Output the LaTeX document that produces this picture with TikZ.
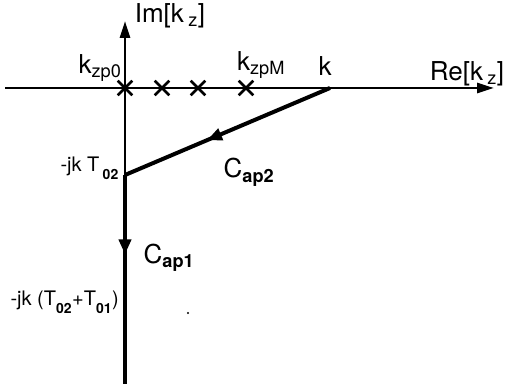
\documentclass[tikz,border=0pt]{standalone}
\usepackage{fontspec}
\setmainfont{TeX Gyre Heros}
\usetikzlibrary{arrows.meta,shapes.misc,decorations.markings}

\newcommand{\lowsub}[1]{\raisebox{-0.45ex}{\textsubscript{\bfseries #1}}}

\begin{document}
\begin{tikzpicture}[x=1pt,y=-1pt,
    axis/.style={line width=2.8pt,-{Triangle[length=17pt,width=10pt]}},
    contour/.style={line width=4pt},
    pole/.style={cross out,draw,line width=2.6pt,minimum size=12pt,inner sep=0pt},
    lbl/.style={inner sep=0pt,font=\fontsize{26}{28}\selectfont},
    smalllbl/.style={inner sep=0pt,font=\fontsize{20}{22}\selectfont,anchor=east},
    midarrow/.style={postaction={decorate},decoration={markings,
      mark=at position #1 with {\arrow{Triangle[length=15pt,width=12pt]}}}}
  ]
  \useasboundingbox (0,0) rectangle (507,387);

  % points of the plane
  \coordinate (origin) at (125,88);
  \coordinate (reLeft) at (5,88);
  \coordinate (reTip) at (494,88);
  \coordinate (imTip) at (125,21);
  \coordinate (kPoint) at (330,88);
  \coordinate (tPoint) at (125,175);
  \coordinate (bottom) at (125,384);

  % axes
  \draw[axis] (reLeft) -- (reTip);
  \draw[axis] (tPoint) -- (imTip);

  % poles
  \node[pole] (pole0) at (origin) {};
  \node[pole] (pole1) at (162,88) {};
  \node[pole] (pole2) at (198,88) {};
  \node[pole] (poleM) at (246,88) {};

  % integration contour
  \draw[contour,midarrow=0.6] (kPoint) -- (tPoint);
  \draw[contour,midarrow=0.38] (tPoint) -- (bottom);

  % labels
  \node[lbl] (imLabel) at (170,16) {Im[k\,\textsubscript{z}]};
  \node[lbl] (reLabel) at (467,74) {Re[k\,\textsubscript{z}]};
  \node[lbl] (zp0Label) at (100,68) {k\textsubscript{zp0}};
  \node[lbl] (zpMLabel) at (261,65) {k\textsubscript{zpM}};
  \node[lbl] (kLabel) at (325,66) {k};
  \node[lbl] (cap2Label) at (249,172) {C\textsubscript{\bfseries ap2}};
  \node[lbl] (cap1Label) at (169,258) {C\textsubscript{\bfseries ap1}};
  \node[smalllbl] (t02Label) at (119,168) {-jk T\,\lowsub{02}};
  \node[smalllbl] (sumLabel) at (119,302)
    {-jk (T\lowsub{02}+T\lowsub{01})};
  \fill (188,313) circle (1.2pt);
\end{tikzpicture}
\end{document}
